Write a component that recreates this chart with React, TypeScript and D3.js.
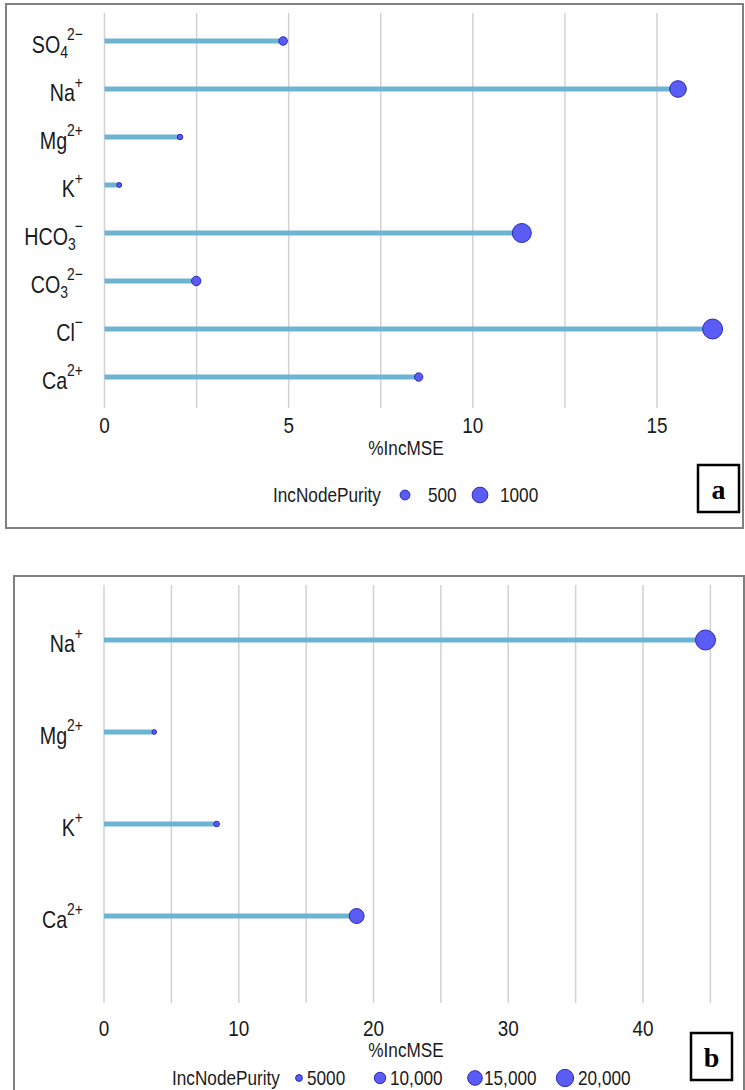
import React from "react";
import * as d3 from "d3";

// Panel a: %IncMSE and IncNodePurity per ion
const ionsA = ["SO4", "Na", "Mg", "K", "HCO3", "CO3", "Cl", "Ca"];
const incMseA = [4.85, 15.57, 2.05, 0.4, 11.33, 2.49, 16.51, 8.53];
const purityA = [420, 1100, 280, 260, 1380, 470, 1500, 410];
const ticksA = [0, 5, 10, 15];
const legendA = [500, 1000];
const legendLabelsA = ["500", "1000"];

// Panel b
const ionsB = ["Na", "Mg", "K", "Ca"];
const incMseB = [44.64, 3.73, 8.36, 18.75];
const purityB = [26000, 3500, 4100, 15500];
const ticksB = [0, 10, 20, 30, 40];
const legendB = [5000, 10000, 15000, 20000];
const legendLabelsB = ["5000", "10,000", "15,000", "20,000"];

// Chemical formula pieces: [base, subscript, superscript]
const formula: Record<string, [string, string, string]> = {
  SO4: ["SO", "4", "2\u2212"],
  Na: ["Na", "", "+"],
  Mg: ["Mg", "", "2+"],
  K: ["K", "", "+"],
  HCO3: ["HCO", "3", "\u2212"],
  CO3: ["CO", "3", "2\u2212"],
  Cl: ["Cl", "", "\u2212"],
  Ca: ["Ca", "", "2+"],
};

const FONT = "Liberation Sans, Arial, sans-serif";
const LINE = "#6cb4d3";
const FILL = "#5b5bf6";
const STROKE = "#2a2ab8";
const GRID = "#d2d2d2";

function Txt({ x, y, anchor = "middle", size = 20, sx = 0.86, children }: any) {
  return (
    <g transform={`translate(${x},${y}) scale(${sx},1)`}>
      <text textAnchor={anchor} fontSize={size} fontFamily={FONT} fill="#1a1a1a" dominantBaseline="central">
        {children}
      </text>
    </g>
  );
}

function IonLabel({ x, y, ion }: { x: number; y: number; ion: string }) {
  const [base, sub, sup] = formula[ion];
  return (
    <Txt x={x} y={y + 3} anchor="end" size={24} sx={0.82}>
      <tspan>{base}</tspan>
      {sub && (
        <tspan fontSize={17} dy={7}>
          {sub}
        </tspan>
      )}
      {sup && (
        <tspan fontSize={17} dy={sub ? -18 : -11} dx={sub ? -1 : 0}>
          {sup}
        </tspan>
      )}
    </Txt>
  );
}

function Panel({
  ions, mse, purity, ticks, gridStep, xDomainMax, xRange, yTop, yBottom, yFirst, yLast,
  sizeDomain, legendVals, legendLabels, legendLayout, tickY, titleY, legendY, letter, box,
}: any) {
  const x = d3.scaleLinear().domain([0, xDomainMax]).range(xRange);
  const y = d3.scalePoint<string>().domain(ions).range([yFirst, yLast]);
  const r = d3.scaleRadial().domain(sizeDomain).range([2.3, 10]);
  const grid = d3.range(0, gridStep * 100, gridStep).filter((v) => x(v) <= 712);
  return (
    <g>
      {grid.map((g: number) => (
        <line key={g} x1={x(g)} x2={x(g)} y1={yTop} y2={yBottom} stroke={GRID} strokeWidth={1.5} />
      ))}
      {ions.map((ion: string, i: number) => (
        <g key={ion}>
          <line x1={x(0)} x2={x(mse[i])} y1={y(ion)} y2={y(ion)} stroke={LINE} strokeWidth={5} />
          <circle cx={x(mse[i])} cy={y(ion)} r={r(purity[i])} fill={FILL} stroke={STROKE} strokeWidth={1} />
          <IonLabel x={83} y={y(ion)!} ion={ion} />
        </g>
      ))}
      {ticks.map((t: number) => (
        <Txt key={t} x={x(t)} y={tickY} size={22}>
          {String(t)}
        </Txt>
      ))}
      <Txt x={406} y={titleY} size={20}>
        %IncMSE
      </Txt>
      <Txt x={legendLayout.title} y={legendY} anchor="start" size={20}>
        IncNodePurity
      </Txt>
      {legendVals.map((v: number, i: number) => (
        <g key={v}>
          <circle cx={legendLayout.keys[i]} cy={legendY} r={r(v)} fill={FILL} stroke={STROKE} strokeWidth={1} />
          <Txt x={legendLayout.labels[i]} y={legendY} anchor="start" size={20}>
            {legendLabels[i]}
          </Txt>
        </g>
      ))}
      <rect x={box.x} y={box.y} width={box.w} height={box.h} fill="white" stroke="#000" strokeWidth={2.5} />
      <text
        x={box.x + box.w / 2}
        y={box.y + box.h / 2 + 1}
        textAnchor="middle"
        dominantBaseline="central"
        fontFamily="Liberation Serif, Times New Roman, serif"
        fontWeight="bold"
        fontSize={28}
      >
        {letter}
      </text>
    </g>
  );
}

export default function App() {
  return (
    <svg
      width={745}
      height={1090}
      style={{ position: "absolute", left: 0, top: 0, background: "white" }}
    >
      <rect x={6} y={4} width={737} height={524} fill="white" stroke="#808080" strokeWidth={2} />
      <rect x={14} y={576} width={730} height={520} fill="white" stroke="#808080" strokeWidth={2} />
      <Panel
        ions={ionsA}
        mse={incMseA}
        purity={purityA}
        ticks={ticksA}
        gridStep={2.5}
        xDomainMax={15}
        xRange={[104.5, 657]}
        yTop={13}
        yBottom={408}
        yFirst={41}
        yLast={377}
        sizeDomain={[250, 1510]}
        legendVals={legendA}
        legendLabels={legendLabelsA}
        legendLayout={{ title: 273, keys: [405, 480], labels: [428, 500] }}
        tickY={425}
        titleY={448}
        legendY={495}
        letter="a"
        box={{ x: 698, y: 465, w: 41, h: 47 }}
      />
      <Panel
        ions={ionsB}
        mse={incMseB}
        purity={purityB}
        ticks={ticksB}
        gridStep={5}
        xDomainMax={40}
        xRange={[104, 643]}
        yTop={585}
        yBottom={1003}
        yFirst={640}
        yLast={916}
        sizeDomain={[3500, 26000]}
        legendVals={legendB}
        legendLabels={legendLabelsB}
        legendLayout={{ title: 172, keys: [299, 380, 475, 565], labels: [307, 390, 484, 578] }}
        tickY={1028}
        titleY={1050}
        legendY={1078}
        letter="b"
        box={{ x: 691, y: 1033, w: 41, h: 47 }}
      />
    </svg>
  );
}
